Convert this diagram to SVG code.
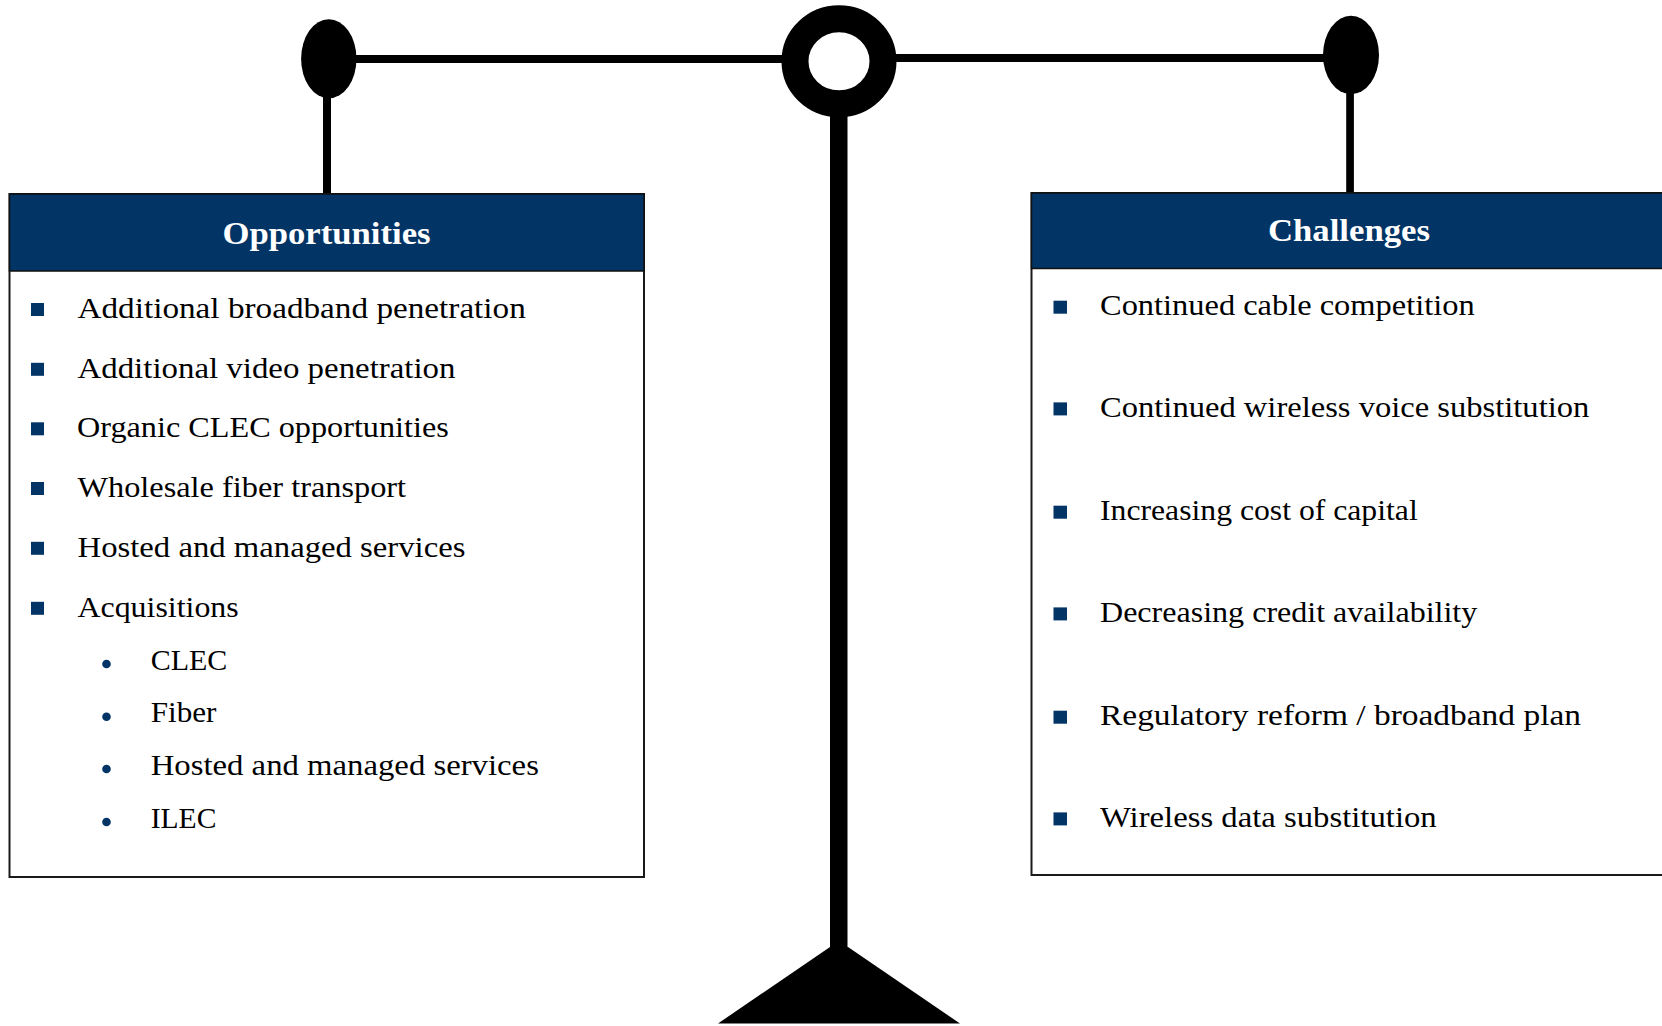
<svg xmlns="http://www.w3.org/2000/svg" width="1662" height="1026" viewBox="0 0 1662 1026">
<style>
.t{font-family:"Liberation Serif","Times New Roman",serif;font-size:29px;fill:#000}
.h{font-family:"Liberation Serif","Times New Roman",serif;font-size:31px;font-weight:bold;fill:#fff;text-anchor:middle}
.sq{fill:#023466}
.dot{fill:#023466}
.box{fill:#fff;stroke:#1a1a1a;stroke-width:2}
.hdr{fill:#023466;stroke:#111;stroke-width:1.5}
.blk{fill:#000}
</style>
<rect width="1662" height="1026" fill="#fff"/>
<g id="scale">
<line x1="340" y1="59" x2="800" y2="59" stroke="#000" stroke-width="8"/>
<line x1="880" y1="58" x2="1340" y2="58" stroke="#000" stroke-width="8"/>
<ellipse cx="328.8" cy="58.8" rx="27.7" ry="39.5" class="blk"/>
<ellipse cx="1351" cy="55" rx="28" ry="39.3" class="blk"/>
<rect x="323" y="90" width="8" height="105" class="blk"/>
<rect x="1346.2" y="88" width="7.7" height="106" class="blk"/>
<rect x="830" y="100" width="17.5" height="850" class="blk"/>
<ellipse cx="839" cy="61.3" rx="44" ry="42.5" fill="#fff" stroke="#000" stroke-width="27"/>
<polygon points="718,1023.5 830,947 848,947 960,1023.5" class="blk"/>
</g>
<g id="opportunities">
<rect x="9.5" y="194" width="634.5" height="683" class="box"/>
<rect x="9.5" y="194" width="634.5" height="77" class="hdr"/>
<text x="326.5" y="243.5" class="h" textLength="208" lengthAdjust="spacingAndGlyphs">Opportunities</text>
<rect x="31" y="303" width="13" height="13" class="sq"/>
<text x="77.5" y="317.7" class="t" textLength="448.3" lengthAdjust="spacingAndGlyphs">Additional broadband penetration</text>
<rect x="31" y="362.8" width="13" height="13" class="sq"/>
<text x="77.5" y="377.5" class="t" textLength="378" lengthAdjust="spacingAndGlyphs">Additional video penetration</text>
<rect x="31" y="422.3" width="13" height="13" class="sq"/>
<text x="77" y="437" class="t" textLength="371.8" lengthAdjust="spacingAndGlyphs">Organic CLEC opportunities</text>
<rect x="31" y="482" width="13" height="13" class="sq"/>
<text x="77.5" y="496.8" class="t" textLength="328.6" lengthAdjust="spacingAndGlyphs">Wholesale fiber transport</text>
<rect x="31" y="541.8" width="13" height="13" class="sq"/>
<text x="77.5" y="556.5" class="t" textLength="388" lengthAdjust="spacingAndGlyphs">Hosted and managed services</text>
<rect x="31" y="601.8" width="13" height="13" class="sq"/>
<text x="77.5" y="616.5" class="t" textLength="161.2" lengthAdjust="spacingAndGlyphs">Acquisitions</text>
<circle cx="106.5" cy="664" r="4.3" class="dot"/>
<text x="150.7" y="669.5" class="t" textLength="76.6" lengthAdjust="spacingAndGlyphs">CLEC</text>
<circle cx="106.5" cy="716.8" r="4.3" class="dot"/>
<text x="150.7" y="722.3" class="t" textLength="65.7" lengthAdjust="spacingAndGlyphs">Fiber</text>
<circle cx="106.5" cy="769" r="4.3" class="dot"/>
<text x="150.7" y="774.5" class="t" textLength="388.2" lengthAdjust="spacingAndGlyphs">Hosted and managed services</text>
<circle cx="106.5" cy="822" r="4.3" class="dot"/>
<text x="150.7" y="827.5" class="t" textLength="65.7" lengthAdjust="spacingAndGlyphs">ILEC</text>
</g>
<g id="challenges">
<rect x="1031.5" y="193" width="640" height="682" class="box"/>
<rect x="1031.5" y="193" width="640" height="75.5" class="hdr"/>
<text x="1349" y="241" class="h" textLength="162" lengthAdjust="spacingAndGlyphs">Challenges</text>
<rect x="1053.5" y="300.7" width="13.5" height="13" class="sq"/>
<text x="1100" y="315" class="t" textLength="374.6" lengthAdjust="spacingAndGlyphs">Continued cable competition</text>
<rect x="1053.5" y="402.4" width="13.5" height="13" class="sq"/>
<text x="1100" y="416.7" class="t" textLength="489.3" lengthAdjust="spacingAndGlyphs">Continued wireless voice substitution</text>
<rect x="1053.5" y="505.7" width="13.5" height="13" class="sq"/>
<text x="1100" y="520" class="t" textLength="317.7" lengthAdjust="spacingAndGlyphs">Increasing cost of capital</text>
<rect x="1053.5" y="607.4" width="13.5" height="13" class="sq"/>
<text x="1100" y="621.7" class="t" textLength="377.3" lengthAdjust="spacingAndGlyphs">Decreasing credit availability</text>
<rect x="1053.5" y="710.7" width="13.5" height="13" class="sq"/>
<text x="1100" y="725" class="t" textLength="481" lengthAdjust="spacingAndGlyphs">Regulatory reform / broadband plan</text>
<rect x="1053.5" y="812.4" width="13.5" height="13" class="sq"/>
<text x="1100" y="826.7" class="t" textLength="336.7" lengthAdjust="spacingAndGlyphs">Wireless data substitution</text>
</g>
</svg>
